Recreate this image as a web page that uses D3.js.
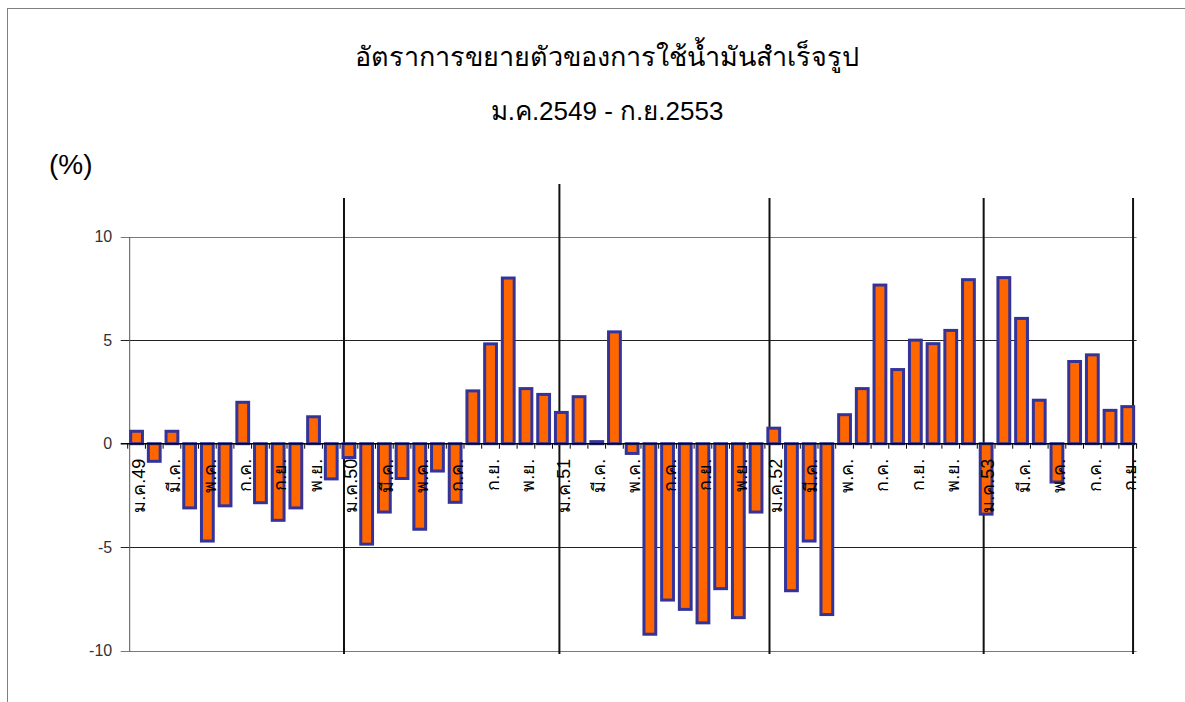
<!DOCTYPE html>
<html>
<head>
<meta charset="utf-8">
<script src="https://cdn.jsdelivr.net/npm/d3@7"></script>
<style>
  html, body { margin: 0; padding: 0; background: #fff; overflow: hidden; }
  svg { display: block; }
  text { font-family: Arial, "Liberation Sans", "Noto Sans", sans-serif; }
</style>
</head>
<body>
<svg id="chart" width="1185" height="702"></svg>
<script>
// ---- data ----
const monthNames = ["ม.ค.", "ก.พ.", "มี.ค.", "เม.ย.", "พ.ค.", "มิ.ย.", "ก.ค.", "ส.ค.", "ก.ย.", "ต.ค.", "พ.ย.", "ธ.ค."];
const years = ["49", "50", "51", "52", "53"];
const values2549 = [0.6, -0.85, 0.6, -3.1, -4.7, -3.0, 2.0, -2.85, -3.7, -3.1, 1.3, -1.7];
const values2550 = [-0.67, -4.85, -3.3, -1.68, -4.13, -1.32, -2.83, 2.55, 4.82, 8.0, 2.66, 2.38];
const values2551 = [1.51, 2.27, 0.1, 5.4, -0.47, -9.2, -7.55, -8.0, -8.65, -7.0, -8.4, -3.3];
const values2552 = [0.75, -7.1, -4.7, -8.25, 1.4, 2.66, 7.66, 3.58, 5.0, 4.83, 5.47, 7.92];
const values2553 = [-3.4, 8.02, 6.05, 2.1, -1.85, 3.97, 4.29, 1.61, 1.79];
const yTicks = [10, 5, 0, -5, -10];
// year separators, in months from the start of the axis
const separatorMonths = [12.22, 24.39, 36.26, 48.36, 56.8];
const titleText = "อัตราการขยายตัวของการใช้น้ำมันสำเร็จรูป";
const subtitleText = "ม.ค.2549 - ก.ย.2553";
const unitText = "(%)";

// ---- build table ----
const allValues = [].concat(values2549, values2550, values2551, values2552, values2553);
const data = allValues.map((v, i) => {
  const m = i % 12, yr = Math.floor(i / 12);
  return {
    key: "m" + i,
    value: v,
    label: m % 2 === 0 ? (m === 0 ? monthNames[m] + years[yr] : monthNames[m]) : ""
  };
});

// ---- layout ----
const svg = d3.select("#chart");
const plotLeft = 127.7, plotRight = 1136.6, plotTop = 236.6, plotBottom = 650.8;

const x = d3.scaleBand().domain(data.map(d => d.key)).range([plotLeft, plotRight])
  .paddingInner(0.333).paddingOuter(0.1667);
const step = x.step();
const y = d3.scaleLinear().domain([-10, 10]).range([plotBottom, plotTop]);

// outer border
svg.append("rect").attr("x", 7.5).attr("y", 8.5).attr("width", 1200).attr("height", 720)
  .attr("fill", "none").attr("stroke", "#808080").attr("stroke-width", 1);

// titles
svg.append("text").attr("x", 607).attr("y", 66).attr("text-anchor", "middle")
  .attr("font-size", 27).attr("fill", "#000").text(titleText);
svg.append("text").attr("x", 607).attr("y", 120).attr("text-anchor", "middle")
  .attr("font-size", 26).attr("fill", "#000").text(subtitleText);
svg.append("text").attr("x", 49).attr("y", 174).attr("font-size", 28)
  .attr("fill", "#000").text(unitText);

// gridlines
svg.append("g").selectAll("line").data(yTicks.filter(t => t !== 0)).join("line")
  .attr("x1", plotLeft - 7).attr("x2", plotRight)
  .attr("y1", d => Math.round(y(d)) + 0.5).attr("y2", d => Math.round(y(d)) + 0.5)
  .attr("stroke", d => Math.abs(d) === 10 ? "#7a7a7a" : "#222").attr("stroke-width", 1.2);

// y axis
const yAxis = d3.axisLeft(y).tickValues(yTicks).tickSize(0).tickPadding(17)
  .tickFormat(d => String(d));
const gy = svg.append("g").attr("transform", `translate(${plotLeft + 1.5},0)`).call(yAxis);
gy.select(".domain").attr("stroke", "#555");
gy.selectAll("text").attr("font-size", 16).attr("fill", "#333")
  .attr("font-family", "Arial, 'Liberation Sans', sans-serif");

// year separators
const sepX = m => plotLeft + m * step;
svg.append("g").selectAll("line").data(separatorMonths).join("line")
  .attr("x1", d => sepX(d)).attr("x2", d => sepX(d))
  .attr("y1", (d, i) => i === 1 ? 184 : 198).attr("y2", 654)
  .attr("stroke", "#111").attr("stroke-width", 2);

// bars
svg.append("g").selectAll("rect").data(data).join("rect")
  .attr("x", d => x(d.key))
  .attr("width", x.bandwidth())
  .attr("y", d => y(Math.max(0, d.value)))
  .attr("height", d => Math.max(0.5, Math.abs(y(d.value) - y(0))))
  .attr("fill", "#FF6600")
  .attr("stroke", "#333399")
  .attr("stroke-width", 3);

// x axis (zero line) with boundary ticks
const gx = svg.append("g");
gx.append("line").attr("x1", plotLeft - 7).attr("x2", plotRight)
  .attr("y1", y(0)).attr("y2", y(0)).attr("stroke", "#000").attr("stroke-width", 1.5);
gx.selectAll("line.tick").data(d3.range(data.length + 1)).join("line")
  .attr("class", "tick")
  .attr("x1", i => plotLeft + i * step).attr("x2", i => plotLeft + i * step)
  .attr("y1", y(0)).attr("y2", y(0) + 5)
  .attr("stroke", "#000").attr("stroke-width", 1);

// rotated month labels
gx.selectAll("text").data(data.filter(d => d.label)).join("text")
  .attr("transform", d => `translate(${x(d.key) + x.bandwidth() / 2 + 2},${y(0) + 15}) rotate(-90)`)
  .attr("text-anchor", "end")
  .attr("dy", "0.35em")
  .attr("font-size", 18)
  .attr("fill", "#000")
  .text(d => d.label);
</script>
</body>
</html>
